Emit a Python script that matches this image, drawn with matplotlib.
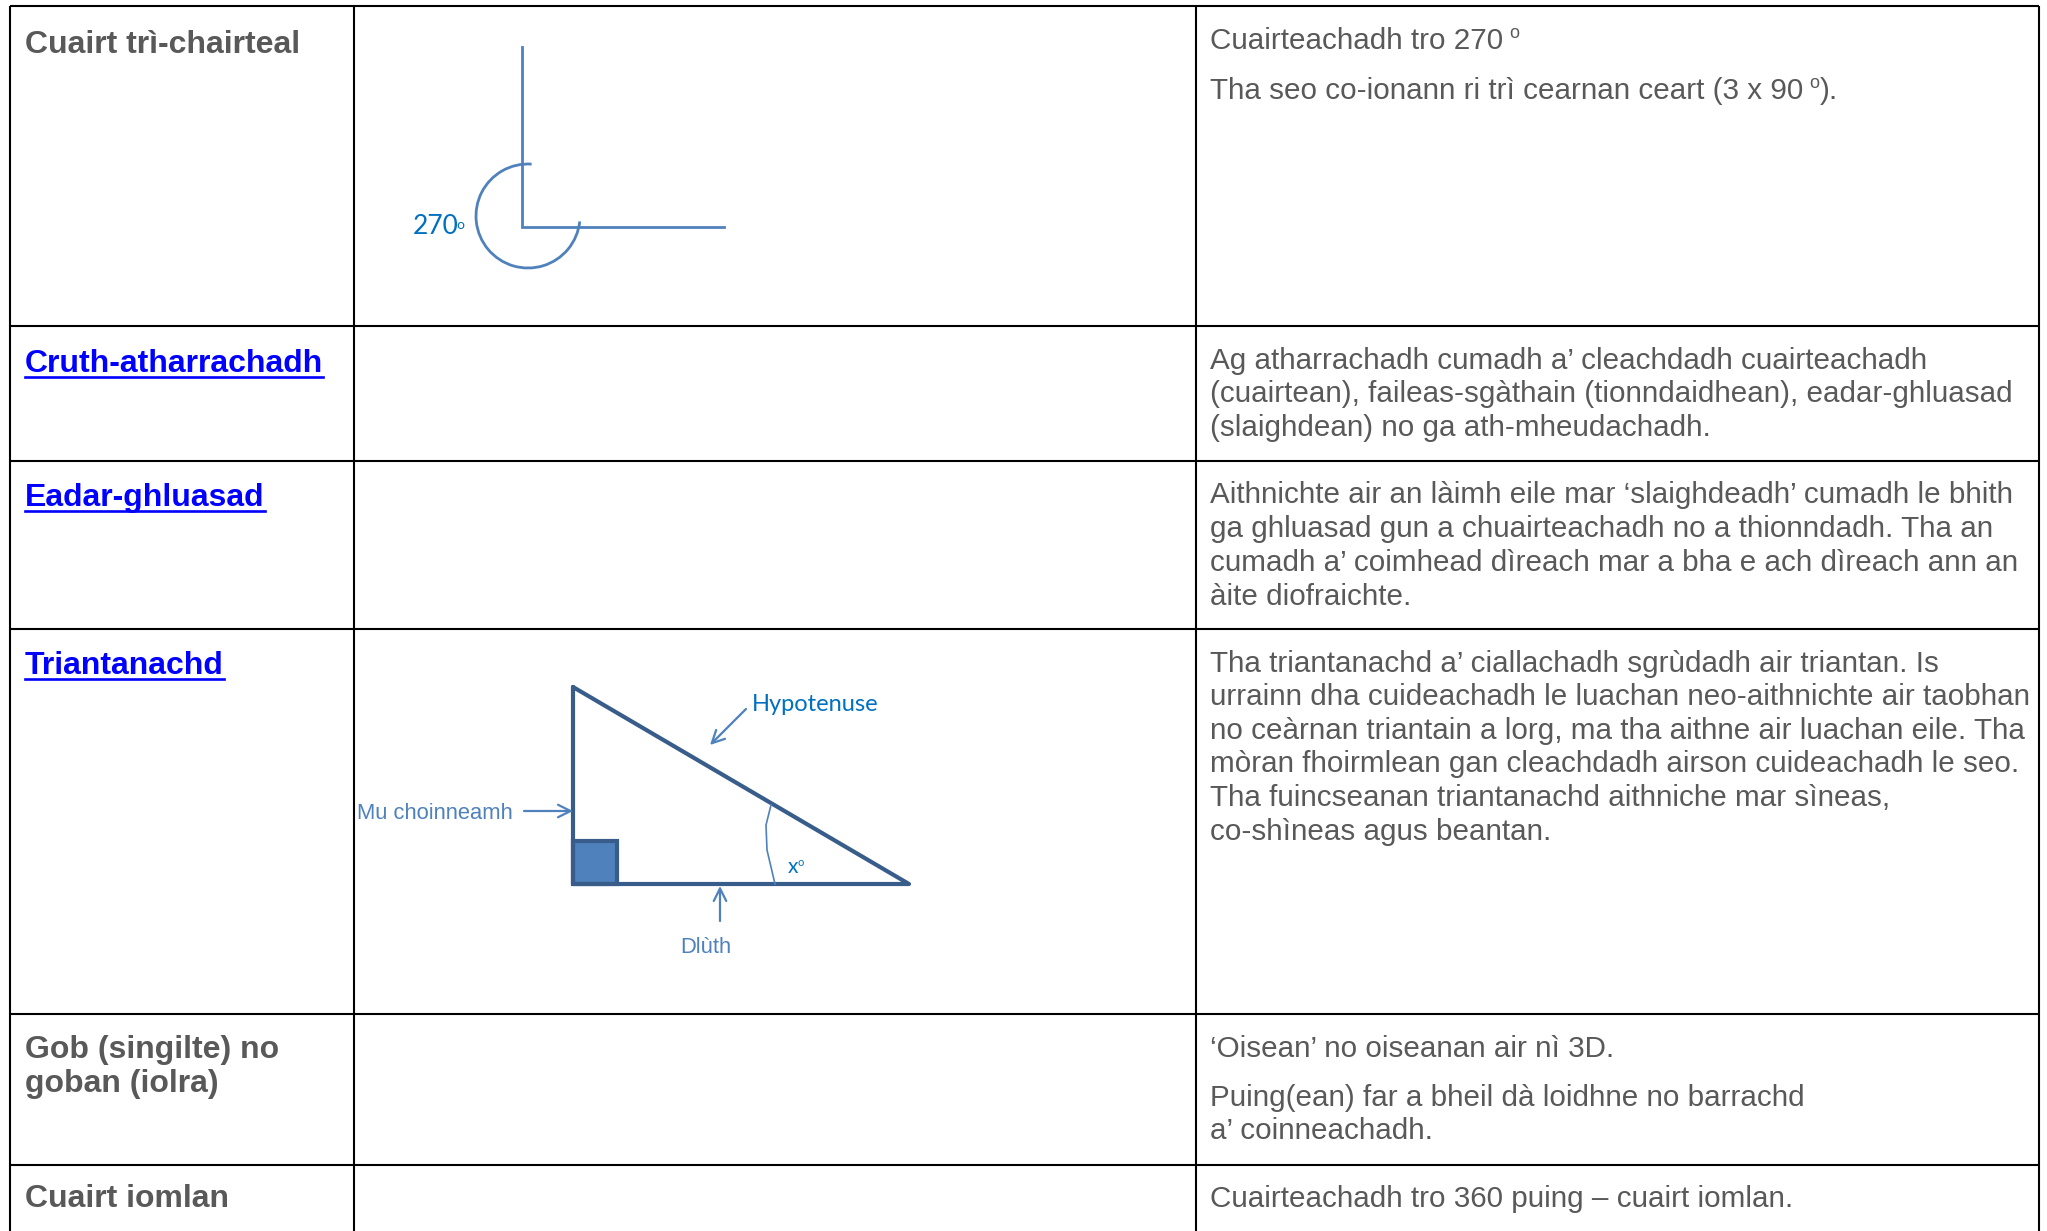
import numpy as np
import matplotlib
matplotlib.use('Agg')
import matplotlib.pyplot as plt
from matplotlib.patches import Arc, Rectangle

W, H = 2047, 1231
col_edges = [10, 353.5, 1196, 2039]
row_edges = [5.5, 326, 461, 629, 1014, 1165]

grey = '#595959'
link = '#0000ff'
shape = '#4f81bd'
shape_dark = '#385d8a'
label_blue = '#0070c0'

# term, baseline, is it a link
terms = [
    ('Cuairt trì-chairteal', 53, False),
    ('Cruth-atharrachadh', 372, True),
    ('Eadar-ghluasad', 506, True),
    ('Triantanachd', 674, True),
    ('Gob (singilte) no', 1058, False),
    ('goban (iolra)', 1092, False),
    ('Cuairt iomlan', 1207, False),
]

# description line, baseline
desc_lines = [
    ('Aithnichte air an làimh eile mar ‘slaighdeadh’ cumadh le bhith', 503),
    ('ga ghluasad gun a chuairteachadh no a thionndadh. Tha an', 537),
    ('cumadh a’ coimhead dìreach mar a bha e ach dìreach ann an', 571),
    ('àite diofraichte.', 605),
    ('Ag atharrachadh cumadh a’ cleachdadh cuairteachadh', 369),
    ('(cuairtean), faileas-sgàthain (tionndaidhean), eadar-ghluasad', 402),
    ('(slaighdean) no ga ath-mheudachadh.', 436),
    ('Tha triantanachd a’ ciallachadh sgrùdadh air triantan. Is', 672),
    ('urrainn dha cuideachadh le luachan neo-aithnichte air taobhan', 705),
    ('no ceàrnan triantain a lorg, ma tha aithne air luachan eile. Tha', 739),
    ('mòran fhoirmlean gan cleachdadh airson cuideachadh le seo.', 772),
    ('Tha fuincseanan triantanachd aithniche mar sìneas,', 806),
    ('co-shìneas agus beantan.', 840),
    ('‘Oisean’ no oiseanan air nì 3D.', 1057),
    ('Puing(ean) far a bheil dà loidhne no barrachd', 1106),
    ('a’ coinneachadh.', 1139),
    ('Cuairteachadh tro 360 puing – cuairt iomlan.', 1207),
]

# the 270 degree sketch
angle_x = [522, 522, 724]
angle_y = [47, 227, 227]
angle_arc = (528, 216, 104, 104)

# the triangle sketch
tri_x = [573, 573, 909, 573]
tri_y = [687, 884, 884, 687]
square = (573, 841, 44, 43)
x_arc_x = [771, 766, 767, 775]
x_arc_y = [805, 825, 850, 884]
arrows = [
    ((746, 709), (710, 745), shape),
    ((524, 811), (573, 811), shape),
    ((720, 921), (720, 886), shape),
]

fig = plt.figure(figsize=(W / 100, H / 100), dpi=100)
ax = fig.add_axes([0, 0, 1, 1])
ax.set_xlim(0, W)
ax.set_ylim(H, 0)
ax.axis('off')

plt.rcParams['font.family'] = ['Liberation Sans', 'DejaVu Sans']

for x in col_edges:
    ax.plot([x, x], [row_edges[0], H], color='black', lw=1.5, solid_capstyle='butt')
for y in row_edges:
    ax.plot([col_edges[0], col_edges[-1]], [y, y], color='black', lw=1.5, solid_capstyle='butt')

# left column
for term, y, is_link in terms:
    t = ax.text(25, y, term, fontsize=23, fontweight='bold', va='baseline',
                color=link if is_link else grey)
    if is_link:
        fig.canvas.draw()
        box = t.get_window_extent()
        ax.plot([box.x0, box.x1], [y + 5, y + 5], color=link, lw=1.9)

# right column
desc_x = 1210
for line, y in desc_lines:
    ax.text(desc_x, y, line, fontsize=21.3, color=grey, va='baseline')


def with_degree(line, y, rest=''):
    t = ax.text(desc_x, y, line, fontsize=21.3, color=grey, va='baseline')
    fig.canvas.draw()
    end = t.get_window_extent().x1
    d = ax.text(end + 6, y - 11, 'o', fontsize=13, color=grey, va='baseline')
    if rest:
        fig.canvas.draw()
        ax.text(d.get_window_extent().x1 + 1, y, rest, fontsize=21.3, color=grey, va='baseline')


with_degree('Cuairteachadh tro 270', 49)
with_degree('Tha seo co-ionann ri trì cearnan ceart (3 x 90', 99, ').')

# 270 sketch
ax.plot(angle_x, angle_y, color=shape, lw=2, solid_joinstyle='miter')
cx, cy, aw, ah = angle_arc
ax.add_patch(Arc((cx, cy), aw, ah, theta1=6, theta2=274, color=shape, lw=2))
ax.text(413, 234, '270', fontsize=19, family='Lato', color=label_blue, va='baseline')
ax.text(456, 229, 'o', fontsize=10, family='Lato', color=label_blue, va='baseline')

# triangle sketch
sx, sy, sw, sh = square
ax.add_patch(Rectangle((sx, sy), sw, sh, facecolor=shape, edgecolor=shape_dark, lw=3))
ax.plot(tri_x, tri_y, color=shape_dark, lw=3, solid_joinstyle='round', solid_capstyle='round')
ax.plot(x_arc_x, x_arc_y, color=shape, lw=1.2)
for start, end, c in arrows:
    ax.annotate('', xy=end, xytext=start,
                arrowprops=dict(arrowstyle='->,head_length=0.9,head_width=0.45', color=c, lw=1.6,
                                shrinkA=0, shrinkB=0))
ax.text(752, 711, 'Hypotenuse', fontsize=17, family='Lato', color=label_blue, va='baseline')
ax.text(357, 819, 'Mu choinneamh', fontsize=15.8, color=shape, va='baseline')
ax.text(680, 953, 'Dlùth', fontsize=15.8, color=shape, va='baseline')
ax.text(788, 873, 'x', fontsize=15, family='Lato', color=label_blue, va='baseline')
ax.text(798, 866, 'o', fontsize=8, family='Lato', color=label_blue, va='baseline')

fig.savefig('out.png', dpi=100)
